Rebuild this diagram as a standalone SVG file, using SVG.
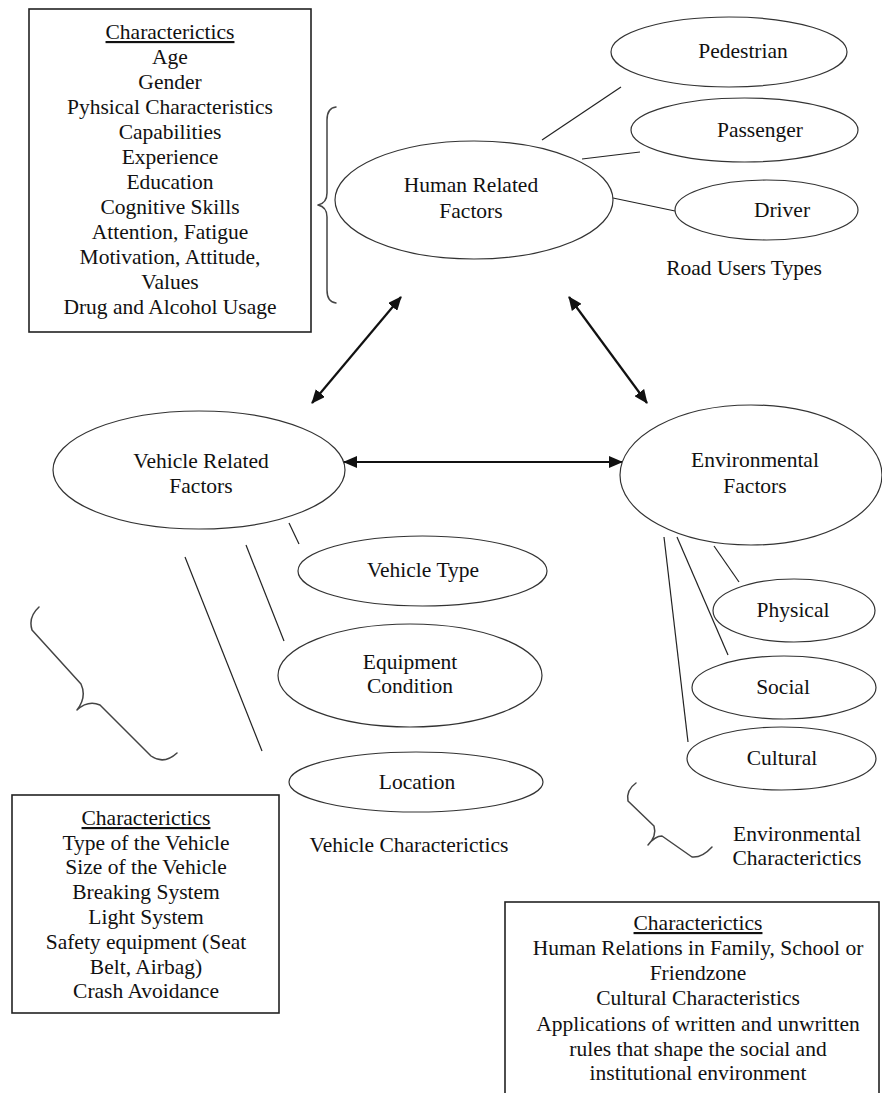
<svg xmlns="http://www.w3.org/2000/svg" width="882" height="1093" viewBox="0 0 882 1093">
  <style>
    text { font-family: "Liberation Serif", "Times New Roman", serif; font-size: 21.5px; fill: #111; text-anchor: middle; }
    .box { fill: #fff; stroke: #222; stroke-width: 1.6; }
    .node { fill: #fff; stroke: #333; stroke-width: 1.2; }
    .thin { stroke: #222; stroke-width: 1.2; fill: none; }
    .brace { stroke: #444; stroke-width: 1.5; fill: none; stroke-linecap: round; stroke-linejoin: round; }
    .arrow { stroke: #111; stroke-width: 2.2; fill: none; marker-start: url(#head); marker-end: url(#head); }
    .ul { text-decoration: underline; }
  </style>
  <defs>
    <marker id="head" markerUnits="userSpaceOnUse" markerWidth="14" markerHeight="12" refX="13" refY="6" orient="auto-start-reverse">
      <path d="M0,0 L14,6 L0,12 z" fill="#111"/>
    </marker>
  </defs>
  <rect width="882" height="1093" fill="#fff"/>

  <!-- connectors -->
  <g id="connectors">
    <!-- road user types -->
    <line class="thin" x1="542" y1="140" x2="621" y2="87"/>
    <line class="thin" x1="582" y1="159" x2="640" y2="152"/>
    <line class="thin" x1="613" y1="198" x2="675" y2="211"/>
    <!-- main relations -->
    <line class="arrow" x1="401" y1="297" x2="312" y2="403"/>
    <line class="arrow" x1="569" y1="297" x2="647" y2="403"/>
    <line class="arrow" x1="344" y1="462" x2="622" y2="462"/>
    <!-- vehicle characteristics -->
    <line class="thin" x1="289" y1="523" x2="299" y2="544"/>
    <line class="thin" x1="246" y1="545" x2="284" y2="641"/>
    <line class="thin" x1="185" y1="557" x2="262" y2="751"/>
    <!-- environmental characteristics -->
    <line class="thin" x1="714" y1="546" x2="739" y2="582"/>
    <line class="thin" x1="677" y1="537" x2="728" y2="655"/>
    <line class="thin" x1="664" y1="537" x2="688" y2="742"/>
    <!-- braces -->
    <path class="brace" d="M336,107 Q327,108 327,120 L327,193 Q327,203 318,205 Q327,207 327,217 L327,290 Q327,302 336,303"/>
    <path class="brace" d="M39,607 Q28,617 32,630 L81,684 Q87,697 77,710 Q88,700 100,705 L151,756 Q164,765 177,753"/>
    <path class="brace" d="M636,783 Q626,790 628,801 L654,826 Q657,836 648,845 Q655,836 662,836 L692,857 Q702,858 712,847"/>
  </g>

  <!-- human characteristics box -->
  <g id="human-characteristics">
    <rect class="box" x="29" y="9" width="282" height="323"/>
    <text x="170" y="39" class="ul">Characterictics</text>
    <text x="170" y="64">Age</text>
    <text x="170" y="89">Gender</text>
    <text x="170" y="114">Pyhsical Characteristics</text>
    <text x="170" y="139">Capabilities</text>
    <text x="170" y="164">Experience</text>
    <text x="170" y="189">Education</text>
    <text x="170" y="214">Cognitive Skills</text>
    <text x="170" y="239">Attention, Fatigue</text>
    <text x="170" y="264">Motivation, Attitude,</text>
    <text x="170" y="289">Values</text>
    <text x="170" y="314">Drug and Alcohol Usage</text>
  </g>

  <g id="human-factors">
    <ellipse class="node" cx="474" cy="200" rx="139" ry="59"/>
    <text x="471" y="192">Human Related</text>
    <text x="471" y="218">Factors</text>
  </g>

  <g id="pedestrian">
    <ellipse class="node" cx="729" cy="52" rx="118" ry="35"/>
    <text x="743" y="58">Pedestrian</text>
  </g>
  <g id="passenger">
    <ellipse class="node" cx="744.5" cy="130" rx="113.5" ry="32"/>
    <text x="760" y="137">Passenger</text>
  </g>
  <g id="driver">
    <ellipse class="node" cx="766.5" cy="210" rx="91.5" ry="30"/>
    <text x="782" y="217">Driver</text>
  </g>
  <g id="road-users-label">
    <text x="744" y="275">Road Users Types</text>
  </g>

  <g id="vehicle-factors">
    <ellipse class="node" cx="199" cy="470" rx="146" ry="59"/>
    <text x="201" y="468">Vehicle Related</text>
    <text x="201" y="493">Factors</text>
  </g>

  <g id="environmental-factors">
    <ellipse class="node" cx="751" cy="475" rx="131" ry="70"/>
    <text x="755" y="467">Environmental</text>
    <text x="755" y="493">Factors</text>
  </g>

  <g id="vehicle-type">
    <ellipse class="node" cx="422.5" cy="571" rx="124.5" ry="35"/>
    <text x="423" y="577">Vehicle Type</text>
  </g>
  <g id="equipment-condition">
    <ellipse class="node" cx="410" cy="675.5" rx="132" ry="51.5"/>
    <text x="410" y="669">Equipment</text>
    <text x="410" y="693">Condition</text>
  </g>
  <g id="location">
    <ellipse class="node" cx="416" cy="782" rx="127" ry="30"/>
    <text x="417" y="789">Location</text>
  </g>
  <g id="vehicle-characteristics-label">
    <text x="409" y="852">Vehicle Characterictics</text>
  </g>

  <g id="physical">
    <ellipse class="node" cx="794" cy="610.5" rx="81" ry="31.5"/>
    <text x="793" y="617">Physical</text>
  </g>
  <g id="social">
    <ellipse class="node" cx="784" cy="687.5" rx="92" ry="31.5"/>
    <text x="783" y="694">Social</text>
  </g>
  <g id="cultural">
    <ellipse class="node" cx="781.5" cy="758.5" rx="94.5" ry="31.5"/>
    <text x="782" y="765">Cultural</text>
  </g>
  <g id="environmental-characteristics-label">
    <text x="797" y="841">Environmental</text>
    <text x="797" y="865">Characterictics</text>
  </g>

  <!-- vehicle characteristics box -->
  <g id="vehicle-characteristics">
    <rect class="box" x="12" y="795" width="267" height="218"/>
    <text x="146" y="825" class="ul">Characterictics</text>
    <text x="146" y="850">Type of the Vehicle</text>
    <text x="146" y="874">Size of the Vehicle</text>
    <text x="146" y="899">Breaking System</text>
    <text x="146" y="924">Light System</text>
    <text x="146" y="949">Safety equipment (Seat</text>
    <text x="146" y="974">Belt, Airbag)</text>
    <text x="146" y="998">Crash Avoidance</text>
  </g>

  <!-- environmental characteristics box -->
  <g id="environmental-characteristics">
    <rect class="box" x="505" y="902" width="374" height="210"/>
    <text x="698" y="930" class="ul">Characterictics</text>
    <text x="698" y="955">Human Relations in Family, School or</text>
    <text x="698" y="980">Friendzone</text>
    <text x="698" y="1005">Cultural Characteristics</text>
    <text x="698" y="1031">Applications of written and unwritten</text>
    <text x="698" y="1056">rules that shape the social and</text>
    <text x="698" y="1080">institutional environment</text>
  </g>
</svg>
